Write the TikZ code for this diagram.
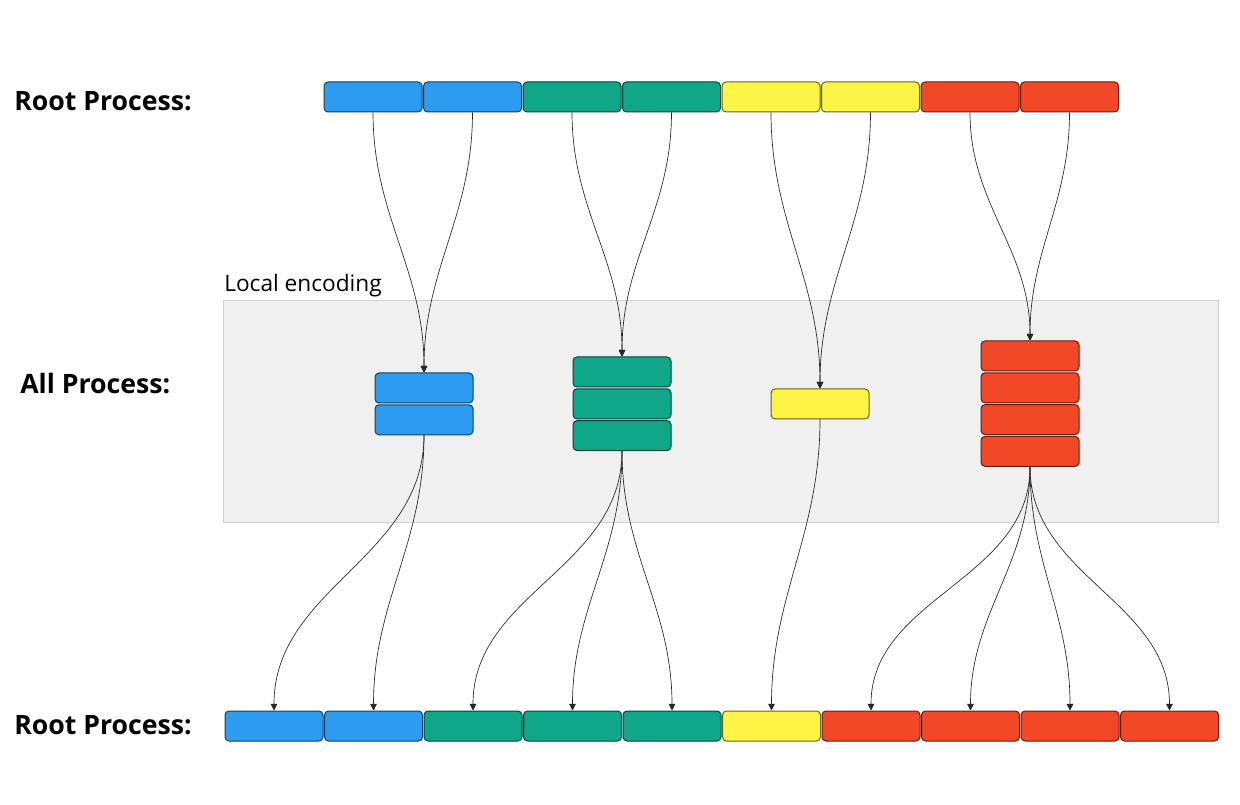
\documentclass[tikz,border=0pt]{standalone}
\usepackage{fontspec}
\setmainfont{Open Sans}
\usetikzlibrary{positioning,arrows.meta}
\definecolor{cblue}{HTML}{2D9BF0}
\definecolor{cgreen}{HTML}{0FA68A}
\definecolor{cyellow}{HTML}{FEF445}
\definecolor{cred}{HTML}{F24827}
\definecolor{panel}{HTML}{F0F0F0}
\definecolor{panelline}{HTML}{D0D0D0}

\begin{document}
\begin{tikzpicture}[x=0.75pt, y=-0.75pt,
  cell/.style = {shape=rectangle, rounded corners=3pt,
    draw=#1!40!black, fill=#1, line width=0.75pt,
    minimum width=73.5pt, minimum height=22.5pt, inner sep=0pt},
  link/.style = {-{Triangle[length=5pt,width=5pt]},
    draw=black!85, line width=0.5pt},
  heading/.style = {anchor=base west, inner sep=0pt,
    font=\bfseries\fontsize{20}{24}\selectfont}]
  \useasboundingbox (0,0) rectangle (1240,805);

  % local encoding panel
  \draw[fill=panel, draw=panelline, line width=0.6pt] (223,300) rectangle (1218,522);
  \node[anchor=base west, inner sep=0pt, font=\fontsize{17}{20}\selectfont]
    (enc-label) at (224,292) {Local encoding};

  \node[heading] (root-top) at (14,111) {Root Process:};
  \node[heading] (all) at (20,394) {All Process:};
  \node[heading] (root-bot) at (14,734) {Root Process:};

  % rows
  \foreach \c [count=\i] in {cblue,cblue,cgreen,cgreen,cyellow,cyellow,cred,cred}
    \node[cell=\c] (top\i) at ({373+99.5*(\i-1)},97) {};
  \foreach \c [count=\i] in {cblue,cblue,cgreen,cgreen,cgreen,cyellow,cred,cred,cred,cred}
    \node[cell=\c] (bot\i) at ({274+99.5*(\i-1)},726) {};

  % stacks
  \node[cell=cblue] (enc-b1) at (424,388) {};
  \node[cell=cblue, below=0.6pt of enc-b1] (enc-b2) {};
  \node[cell=cgreen] (enc-g1) at (622,372) {};
  \node[cell=cgreen, below=0.6pt of enc-g1] (enc-g2) {};
  \node[cell=cgreen, below=0.6pt of enc-g2] (enc-g3) {};
  \node[cell=cyellow] (enc-y1) at (820,404) {};
  \node[cell=cred] (enc-r1) at (1030,356) {};
  \node[cell=cred, below=0.6pt of enc-r1] (enc-r2) {};
  \node[cell=cred, below=0.6pt of enc-r2] (enc-r3) {};
  \node[cell=cred, below=0.6pt of enc-r3] (enc-r4) {};

  % gather
  \foreach \s/\t in {1/enc-b1,2/enc-b1,3/enc-g1,4/enc-g1,5/enc-y1,6/enc-y1,7/enc-r1,8/enc-r1}
    \draw[link] (top\s.south) to[out=-90,in=90] (\t.north);
  % scatter
  \foreach \s/\t in {enc-b2/1,enc-b2/2,enc-g3/3,enc-g3/4,enc-g3/5,enc-y1/6,enc-r4/7,enc-r4/8,enc-r4/9,enc-r4/10}
    \draw[link] (\s.south) to[out=-90,in=90] (bot\t.north);
\end{tikzpicture}
\end{document}
